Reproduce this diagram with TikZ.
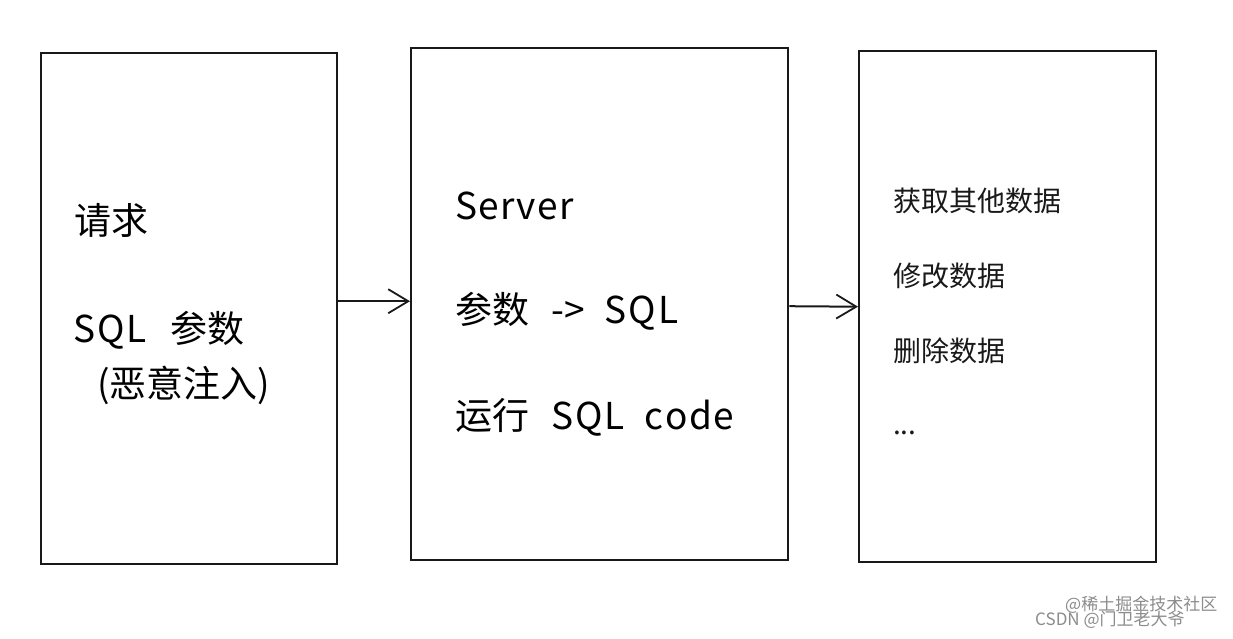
\documentclass[tikz,border=0pt]{standalone}
\usepackage{fontspec}
\setmainfont{Noto Sans CJK SC}
\usetikzlibrary{arrows.meta}
\tikzset{
  box/.style={draw=black!90, line width=2.4pt, inner sep=0pt, anchor=north west},
  lbl/.style={anchor=west, inner sep=0pt, font=\fontsize{37}{40}\selectfont, text=black},
  small/.style={anchor=west, inner sep=0pt, font=\fontsize{28}{31}\selectfont, text=black!90},
  arr/.style={draw=black!90, line width=2pt, -{Straight Barb[length=20pt,width=24pt,line width=1.8pt]}},
  wm/.style={anchor=west, inner sep=0pt, font=\fontsize{17}{19}\selectfont, text=black!45}
}
\begin{document}
\begin{tikzpicture}[x=1pt,y=-1pt]
\useasboundingbox[fill=white] (0,0) rectangle (1233,638);
\node[box, minimum width=296pt, minimum height=511pt] (b1) at (40,52) {};
\node[box, minimum width=377pt, minimum height=512pt] (b2) at (410,47) {};
\node[box, minimum width=297pt, minimum height=511pt] (b3) at (858,50) {};

\node[lbl] (t1) at (74,220) {请求};
\node[lbl] (t2) at (73,330) {S\hspace{2pt}Q\hspace{2pt}L\hspace{24pt}参数};
\node[lbl] (t3) at (97,385) {(恶意注入)};

\node[lbl] (s1) at (455,206) {S\hspace{1.5pt}e\hspace{1.5pt}r\hspace{1.5pt}v\hspace{1.5pt}e\hspace{1.5pt}r};
\node[lbl] (s2) at (455,311) {参数\hspace{22pt}->\hspace{20pt}S\hspace{2pt}Q\hspace{2pt}L};
\node[lbl] (s3) at (455,417) {运行\hspace{22pt}S\hspace{2pt}Q\hspace{2pt}L\hspace{20pt}c\hspace{1.5pt}o\hspace{1.5pt}d\hspace{1.5pt}e};

\node[small] (r1) at (893,201) {获取其他数据};
\node[small] (r2) at (893,276) {修改数据};
\node[small] (r3) at (893,351) {删除数据};
\node[small] (r4) at (893,433) {...};

\draw[arr] ([yshift=7.5pt]b1.east) -- ([yshift=3pt]b2.west);
\draw[arr] ([yshift=-2pt]b2.east) -- (b3.west);

\node[wm] (w1) at (1065,605) {@稀土掘金技术社区};
\node[wm] (w2) at (1035,620) {CSDN @门卫老大爷};
\end{tikzpicture}
\end{document}
